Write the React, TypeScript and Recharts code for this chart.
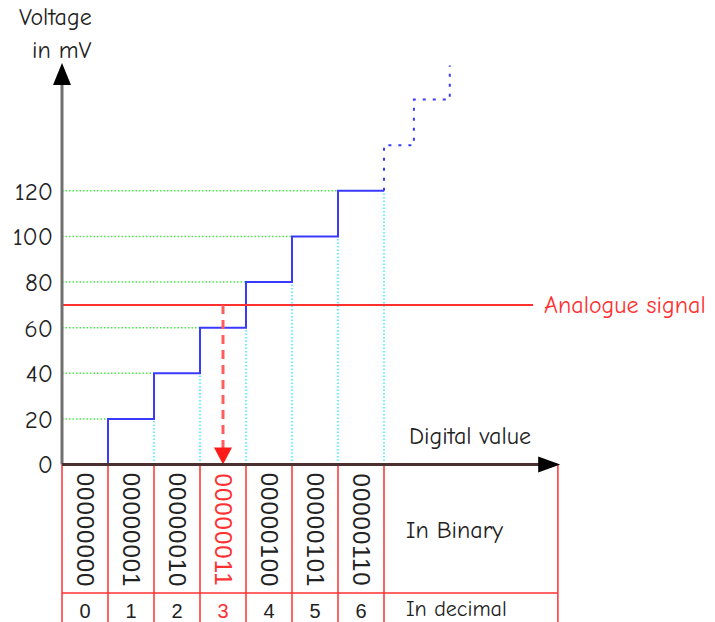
import React from "react";
import {
  ComposedChart,
  Line,
  Scatter,
  XAxis,
  YAxis,
  ReferenceLine,
} from "recharts";

// digital codes (columns) and the voltage each one stands for
const codes = [0, 1, 2, 3, 4, 5, 6];
const binaryLabels = ["00000000", "00000001", "00000010", "00000011", "00000100", "00000101", "00000110"];
const decimalLabels = ["0", "1", "2", "3", "4", "5", "6"];
const stepVoltages = [0, 20, 40, 60, 80, 100, 120];
const yTicks = [0, 20, 40, 60, 80, 100, 120];

// dotted continuation of the staircase
const extraX = [7, 7, 7.65, 8.43];
const extraY = [120, 140, 160, 175];

const analogueLevel = 70;
const selectedCode = 3;

const FONT = "'Comic Sans MS', 'Comic Neue', 'Noto Sans', sans-serif";
const BLUE = "#3a3aff";
const RED = "#ff3030";

// table geometry in data units
const tableRight = 10.78;
const rowSplit = -56.3;
const tableBottom = -69;
const binaryRowY = -28.7;
const decimalRowY = -64;

const solidSteps = [
  ...codes.map((c) => ({ x: c, v: stepVoltages[c] })),
  { x: codes.length, v: stepVoltages[codes.length - 1] },
];
const dottedSteps = extraX.map((x, i) => ({ x, v: extraY[i] }));

const tableText = [
  ...codes.map((c) => ({
    x: c + 0.5,
    y: binaryRowY,
    text: binaryLabels[c],
    rotate: true,
    color: c === selectedCode ? RED : "#222",
  })),
  ...codes.map((c) => ({
    x: c + 0.5,
    y: decimalRowY,
    text: decimalLabels[c],
    rotate: false,
    color: c === selectedCode ? RED : "#222",
  })),
];

const TableLabel = (props: any) => {
  const { cx, cy, payload } = props;
  if (payload.rotate) {
    return (
      <text
        x={cx}
        y={cy}
        transform={`rotate(90, ${cx}, ${cy})`}
        textAnchor="middle"
        dominantBaseline="central"
        fontFamily="'Liberation Sans', Arial, sans-serif"
        fontSize={24}
        letterSpacing={1}
        fill={payload.color}
      >
        {payload.text}
      </text>
    );
  }
  return (
    <text
      x={cx}
      y={cy}
      textAnchor="middle"
      dominantBaseline="central"
      fontFamily="'Liberation Sans', Arial, sans-serif"
      fontSize={20}
      fill={payload.color}
    >
      {payload.text}
    </text>
  );
};

const YArrow = (props: any) => {
  const { x1, y1, x2, y2 } = props;
  return (
    <g>
      <line x1={x1} y1={y1} x2={x2} y2={y2 + 10} stroke="#707070" strokeWidth={3} />
      <polygon points={`${x2},${y2} ${x2 - 9},${y2 + 22} ${x2 + 9},${y2 + 22}`} fill="#000" />
    </g>
  );
};

const XArrow = (props: any) => {
  const { x1, y1, x2, y2 } = props;
  return (
    <g>
      <line x1={x1} y1={y1} x2={x2 - 10} y2={y2} stroke="#4a3030" strokeWidth={3} />
      <polygon points={`${x2},${y2} ${x2 - 22},${y2 - 8} ${x2 - 22},${y2 + 8}`} fill="#000" />
    </g>
  );
};

const DownArrow = (props: any) => {
  const { x1, y1, x2, y2 } = props;
  return (
    <g>
      <line x1={x1} y1={y1} x2={x2} y2={y2 - 16} stroke="#ff5c5c" strokeWidth={3} strokeDasharray="9 6" />
      <polygon points={`${x2},${y2} ${x2 - 9},${y2 - 17} ${x2 + 9},${y2 - 17}`} fill="#ff1a1a" />
    </g>
  );
};

const textStyle: React.CSSProperties = {
  position: "absolute",
  fontFamily: FONT,
  fontSize: 24,
  color: "#222",
  whiteSpace: "nowrap",
  lineHeight: 1,
};

export default function App() {
  return (
    <div style={{ position: "absolute", left: 0, top: 0, width: 715, height: 622, background: "#fff", overflow: "hidden" }}>
      <ComposedChart width={715} height={622} margin={{ top: 54, right: 147, bottom: 0, left: 0 }}>
        <XAxis type="number" dataKey="x" domain={[0, 11]} hide allowDataOverflow />
        <YAxis
          type="number"
          domain={[-69, 180]}
          ticks={yTicks}
          width={62}
          axisLine={false}
          tickLine={false}
          tickSize={0}
          tickMargin={9}
          tick={{ fill: "#222", fontSize: 25, fontFamily: FONT }}
          allowDataOverflow
        />

        {/* green guides from the axis to each step */}
        {codes.slice(1).map((c) => (
          <ReferenceLine
            key={`g${c}`}
            segment={[{ x: 0, y: stepVoltages[c] }, { x: c, y: stepVoltages[c] }]}
            stroke="#44ee44"
            strokeWidth={1.5}
            strokeDasharray="1.5 2"
          />
        ))}
        {/* cyan guides down from each riser */}
        {[...codes.slice(2), codes.length].map((c) => (
          <ReferenceLine
            key={`c${c}`}
            segment={[{ x: c, y: 0 }, { x: c, y: stepVoltages[c - 1] }]}
            stroke="#33f0ff"
            strokeWidth={1.5}
            strokeDasharray="1.5 2"
          />
        ))}

        {/* table grid */}
        {[...codes, codes.length].map((c) => (
          <ReferenceLine
            key={`t${c}`}
            segment={[{ x: c, y: 0 }, { x: c, y: tableBottom }]}
            stroke={RED}
            strokeWidth={1.5}
          />
        ))}
        <ReferenceLine segment={[{ x: tableRight, y: 0 }, { x: tableRight, y: tableBottom }]} stroke={RED} strokeWidth={1.5} />
        <ReferenceLine segment={[{ x: 0, y: rowSplit }, { x: tableRight, y: rowSplit }]} stroke={RED} strokeWidth={1.5} />
        <ReferenceLine segment={[{ x: 0, y: 0 }, { x: tableRight, y: 0 }]} stroke={RED} strokeWidth={1.5} />

        <Line
          data={solidSteps}
          dataKey="v"
          type="stepAfter"
          stroke={BLUE}
          strokeWidth={2}
          dot={false}
          isAnimationActive={false}
        />
        <Line
          data={dottedSteps}
          dataKey="v"
          type="stepAfter"
          stroke={BLUE}
          strokeWidth={2}
          strokeDasharray="3 7"
          dot={false}
          isAnimationActive={false}
        />

        {/* analogue signal */}
        <ReferenceLine
          segment={[{ x: 0, y: analogueLevel }, { x: 10.24, y: analogueLevel }]}
          stroke={RED}
          strokeWidth={2}
          label={{ value: "Analogue signal", position: "right", offset: 11, fill: RED, fontSize: 24, fontFamily: FONT }}
        />
        <ReferenceLine
          segment={[{ x: selectedCode + 0.5, y: analogueLevel }, { x: selectedCode + 0.5, y: 0 }]}
          shape={DownArrow}
        />

        {/* axes */}
        <ReferenceLine segment={[{ x: 0, y: 0 }, { x: 0, y: 176 }]} shape={YArrow} />
        <ReferenceLine segment={[{ x: 0, y: 0 }, { x: 10.83, y: 0 }]} shape={XArrow} />

        <Scatter data={tableText} dataKey="y" shape={TableLabel} isAnimationActive={false} />
      </ComposedChart>

      <div style={{ ...textStyle, left: 19, top: 5 }}>Voltage</div>
      <div style={{ ...textStyle, left: 32, top: 38 }}>in mV</div>
      <div style={{ ...textStyle, left: 409, top: 424 }}>Digital value</div>
      <div style={{ ...textStyle, left: 406, top: 518 }}>In Binary</div>
      <div style={{ ...textStyle, left: 406, top: 598, fontSize: 22 }}>In decimal</div>
    </div>
  );
}
